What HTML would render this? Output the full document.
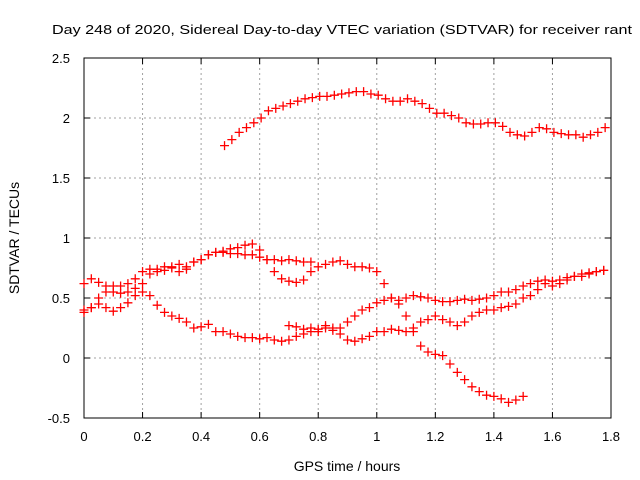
<!DOCTYPE html>
<html><head><meta charset="utf-8"><style>body{margin:0;background:#fff}svg{display:block;font-family:"Liberation Sans",sans-serif}</style></head>
<body>
<svg id="c" width="640" height="480" xmlns="http://www.w3.org/2000/svg"></svg>
<script>
const xTicks=[0,0.2,0.4,0.6,0.8,1,1.2,1.4,1.6,1.8];
const xTickLabels=["0","0.2","0.4","0.6","0.8","1","1.2","1.4","1.6","1.8"];
const yTicks=[-0.5,0,0.5,1,1.5,2,2.5];
const yTickLabels=["-0.5","0","0.5","1","1.5","2","2.5"];
const step=0.025;
const s1Start=0.48;
const s1=[1.77,1.82,1.88,1.92,1.96,2.0,2.06,2.08,2.1,2.12,2.14,2.16,2.17,2.18,2.18,2.19,2.2,2.21,2.22,2.22,2.2,2.19,2.16,2.14,2.14,2.16,2.14,2.12,2.08,2.04,2.04,2.02,2.0,1.96,1.95,1.95,1.96,1.96,1.93,1.88,1.86,1.85,1.88,1.92,1.91,1.88,1.87,1.86,1.86,1.84,1.86,1.88,1.92];
const s2Start=0;
const s2=[0.62,0.66,0.63,0.60,0.60,0.60,0.62,0.66,0.72,0.74,0.74,0.76,0.76,0.72,0.74,0.80,0.82,0.86,0.88,0.88,0.87,0.87,0.86,0.86,0.84,0.82,0.82,0.81,0.82,0.81,0.80,0.80];
const s3Start=0;
const s3=[0.38,0.42,0.5,0.55,0.55,0.54,0.55,0.58,0.62,0.7,0.72,0.73,0.75,0.78,0.76,0.8,0.82,0.86,0.88,0.89,0.91,0.92,0.94,0.95,0.9,0.82,0.72,0.66,0.64,0.63,0.65,0.72,0.76,0.78,0.80,0.81,0.78,0.76,0.76,0.75,0.72,0.62,0.5,0.45,0.35,0.22,0.1,0.05,0.03,0.02,-0.05,-0.12,-0.18,-0.24,-0.28,-0.31,-0.32,-0.34,-0.37,-0.35,-0.32];
const s4Start=0;
const s4=[0.4,0.42,0.45,0.42,0.39,0.42,0.46,0.52,0.55,0.52,0.44,0.38,0.35,0.33,0.3,0.25,0.26,0.28,0.22,0.22,0.2,0.18,0.17,0.17,0.16,0.17,0.15,0.14,0.15,0.18,0.2,0.25,0.24,0.27,0.23,0.2,0.15,0.14,0.16,0.18,0.22,0.22,0.24,0.23,0.22,0.25,0.3,0.32,0.35,0.32,0.3,0.27,0.3,0.35,0.38,0.4,0.4,0.42,0.43,0.45,0.5,0.52,0.57,0.62,0.6,0.62,0.65,0.68,0.68,0.7,0.72,0.73];
const s5Start=0.7;
const s5=[0.27,0.26,0.24,0.22,0.22,0.25,0.25,0.25,0.3,0.35,0.4,0.42,0.46,0.48,0.5,0.48,0.5,0.52,0.51,0.5,0.48,0.47,0.47,0.48,0.49,0.48,0.49,0.5,0.52,0.55,0.55,0.57,0.6,0.62,0.64,0.65,0.64,0.65,0.67,0.68,0.7,0.71,0.72,0.73];
const series=[[s1Start,s1],[s2Start,s2],[s3Start,s3],[s4Start,s4],[s5Start,s5]];

const L=84,R=611,T=58,B=418;
const X=v=>L+(v-0)/(1.8-0)*(R-L);
const Y=v=>B-(v+0.5)/3*(B-T);
const svg=document.getElementById('c');
const NS='http://www.w3.org/2000/svg';
function mk(t,a,p){const e=document.createElementNS(NS,t);for(const k in a)e.setAttribute(k,a[k]);(p||svg).appendChild(e);return e;}

const title=mk('text',{x:342,y:34,'text-anchor':'middle','font-size':13,textLength:580,lengthAdjust:'spacingAndGlyphs'});
title.textContent='Day 248 of 2020, Sidereal Day-to-day VTEC variation (SDTVAR) for receiver rant';



xTicks.forEach((v,i)=>{
  const x=X(v);
  if(i>0&&i<xTicks.length-1){const g=mk('line',{x1:x,y1:T,x2:x,y2:B,stroke:'#a0a0a0','stroke-dasharray':'2,3'});}
  mk('line',{x1:x,y1:B,x2:x,y2:B-6,stroke:'#000'});
  mk('line',{x1:x,y1:T,x2:x,y2:T+6,stroke:'#000'});
  const t=mk('text',{x:x,y:B+23,'text-anchor':'middle','font-size':13});
  t.textContent=xTickLabels[i];
  
  
});
yTicks.forEach((v,i)=>{
  const y=Y(v);
  if(i>0&&i<yTicks.length-1){const g=mk('line',{x1:L,y1:y,x2:R,y2:y,stroke:'#a0a0a0','stroke-dasharray':'2,3'});}
  mk('line',{x1:L,y1:y,x2:L+6,y2:y,stroke:'#000'});
  mk('line',{x1:R,y1:y,x2:R-6,y2:y,stroke:'#000'});
  const t=mk('text',{x:70,y:y+5,'text-anchor':'end','font-size':13});
  t.textContent=yTickLabels[i];
  
  
});
const fr=mk('rect',{x:L,y:T,width:R-L,height:B-T,fill:'none',stroke:'#000','stroke-width':1});



series.forEach(([x0,vals],si)=>{
  const g=mk('g',{stroke:'#ff0000','stroke-width':1.3});
  
  
  vals.forEach((v,j)=>{
    const x=X(x0+j*step),y=Y(v);
    const p=mk('path',{d:`M${x-4.5},${y}H${x+4.5}M${x},${y-4.5}V${y+4.5}`},g);
    
    
  });
});

const xl=mk('text',{x:347,y:471,'text-anchor':'middle','font-size':14});
xl.textContent='GPS time / hours';


const yl=mk('text',{x:0,y:0,'text-anchor':'middle','font-size':14,transform:'translate(19,238) rotate(-90)'});
yl.textContent='SDTVAR / TECUs';


</script>
</body></html>
